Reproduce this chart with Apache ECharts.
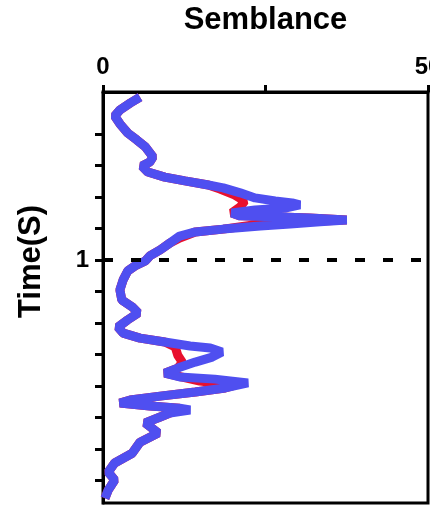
<!DOCTYPE html>
<html lang="en">

<head>
    <meta charset="UTF-8">
    <title>Semblance</title>
    <script src="https://cdn.jsdelivr.net/npm/echarts@6/dist/echarts.min.js"></script>
    <style>
        html,
        body {
            margin: 0px;
            padding: 0px;
            background: #fff;
        }

        #semblance {
            width: 430px;
            height: 508px;
        }
    </style>
</head>

<body>
    <div id="semblance"></div>
    <script>
        // picked semblance (blue) and the reference pick underneath (red)
        var blueValues = [5.7, 4.2, 2.6, 1.8, 2.6, 3.8, 5.2, 6.5, 7.7, 7.2, 6.0, 6.9, 9.5, 12.6, 16.2, 18.5, 21.1, 23.4, 26.5, 29.1, 30.3, 28.0, 23.4, 19.8, 21.1, 26.2, 31.8, 37.5, 33.4, 28.8, 24.2, 18.5, 14.2, 11.8, 10.3, 8.8, 7.2, 6.5, 4.9, 3.8, 3.1, 2.6, 2.9, 4.5, 5.4, 3.8, 2.3, 3.1, 5.7, 9.5, 13.4, 16.5, 18.3, 16.8, 14.2, 11.5, 9.5, 11.8, 17.2, 22.3, 18.8, 14.2, 8.8, 4.2, 2.6, 7.2, 11.8, 13.4, 10.3, 8.8, 6.5, 8.5, 5.7, 4.5, 1.8, 0.8, 1.8, 0.8, 0.3];
        var blueTimes = [0.483, 0.502, 0.524, 0.543, 0.568, 0.597, 0.619, 0.641, 0.673, 0.689, 0.702, 0.721, 0.737, 0.749, 0.762, 0.771, 0.787, 0.803, 0.813, 0.819, 0.825, 0.835, 0.841, 0.851, 0.860, 0.863, 0.867, 0.873, 0.879, 0.886, 0.892, 0.902, 0.911, 0.924, 0.946, 0.968, 0.987, 1.003, 1.019, 1.035, 1.063, 1.095, 1.127, 1.149, 1.168, 1.190, 1.213, 1.232, 1.248, 1.260, 1.273, 1.279, 1.292, 1.308, 1.324, 1.343, 1.359, 1.371, 1.378, 1.390, 1.406, 1.419, 1.432, 1.444, 1.454, 1.463, 1.470, 1.476, 1.486, 1.498, 1.517, 1.549, 1.578, 1.613, 1.644, 1.673, 1.698, 1.730, 1.756];

        var redValues = [5.7, 4.2, 2.6, 1.8, 2.6, 3.8, 5.2, 6.5, 7.7, 7.2, 6.0, 6.9, 9.5, 12.6, 16.2, 18.0, 20.3, 21.8, 21.1, 19.8, 21.1, 26.2, 31.8, 37.5, 33.4, 28.8, 24.2, 18.5, 14.2, 11.8, 10.3, 8.8, 7.2, 6.5, 4.9, 3.8, 3.1, 2.6, 2.9, 4.5, 5.4, 3.8, 2.3, 3.1, 5.7, 9.5, 11.1, 11.5, 12.2, 11.5, 9.5, 14.9, 20.3, 18.8, 14.2, 8.8, 4.2, 2.6, 7.2, 11.8, 11.0, 10.3, 8.8, 6.5, 8.5, 5.7, 4.5, 1.8, 0.8, 1.8, 0.8, 0.3];
        var redTimes = [0.483, 0.502, 0.524, 0.543, 0.568, 0.597, 0.619, 0.641, 0.673, 0.689, 0.702, 0.721, 0.737, 0.749, 0.762, 0.775, 0.794, 0.813, 0.832, 0.851, 0.860, 0.863, 0.867, 0.873, 0.876, 0.879, 0.886, 0.902, 0.911, 0.930, 0.946, 0.968, 0.987, 1.003, 1.019, 1.035, 1.063, 1.095, 1.127, 1.149, 1.168, 1.190, 1.213, 1.232, 1.248, 1.260, 1.276, 1.302, 1.324, 1.343, 1.359, 1.384, 1.397, 1.406, 1.419, 1.432, 1.444, 1.454, 1.463, 1.470, 1.480, 1.486, 1.498, 1.517, 1.549, 1.578, 1.613, 1.644, 1.673, 1.698, 1.730, 1.756];

        var timeTicks = [0.6, 0.7, 0.8, 0.9, 1.0, 1.1, 1.2, 1.3, 1.4, 1.5, 1.6, 1.7];
        var timeLabels = [1];
        var semblanceTicks = [0, 25, 50];
        var markTime = 1;

        function pairs(xs, ys) {
            var out = [];
            for (var i = 0; i < xs.length; i++) {
                out.push([xs[i], ys[i]]);
            }
            return out;
        }

        var chart = echarts.init(document.getElementById('semblance'));
        var boldText = {
            fontFamily: 'Liberation Sans, Arial, sans-serif',
            fontWeight: 'bold',
            color: '#000'
        };

        var option = {
            animation: false,
            grid: {
                left: 103,
                right: 2,
                top: 92,
                bottom: 5,
                outerBoundsMode: 'none',
                show: true,
                borderColor: '#000',
                borderWidth: 3
            },
            xAxis: {
                type: 'value',
                position: 'top',
                min: 0,
                max: 50,
                interval: 25,
                name: 'Semblance',
                nameLocation: 'middle',
                nameGap: 56,
                nameTextStyle: Object.assign({ fontSize: 31 }, boldText),
                axisLine: {
                    lineStyle: { color: '#000', width: 3 }
                },
                axisTick: {
                    length: 7,
                    lineStyle: { color: '#000', width: 3 }
                },
                axisLabel: Object.assign({
                    fontSize: 24,
                    margin: 13,
                    showMaxLabel: true,
                    formatter: function (v) {
                        return semblanceTicks.indexOf(v) === 1 ? '' : String(v);
                    }
                }, boldText),
                splitLine: { show: false }
            },
            yAxis: {
                type: 'value',
                inverse: true,
                min: 0.467,
                max: 1.771,
                name: 'Time(S)',
                nameLocation: 'middle',
                nameRotate: 90,
                nameGap: 56,
                nameTextStyle: Object.assign({ fontSize: 31, padding: [0, 0, 0, 72] }, boldText),
                axisLine: {
                    lineStyle: { color: '#000', width: 3 }
                },
                axisTick: {
                    length: 8,
                    customValues: timeTicks,
                    lineStyle: { color: '#000', width: 3 }
                },
                axisLabel: Object.assign({
                    fontSize: 24,
                    margin: 14,
                    customValues: timeLabels,
                    formatter: function (v) {
                        return String(Math.round(v));
                    }
                }, boldText),
                splitLine: { show: false }
            },
            series: [{
                    name: 'reference',
                    type: 'line',
                    data: pairs(redValues, redTimes),
                    showSymbol: false,
                    lineStyle: { color: '#e8102e', width: 9 },
                    markLine: {
                        silent: true,
                        symbol: 'none',
                        label: { show: false },
                        lineStyle: { color: '#000', width: 4, type: [10, 18] },
                        data: [{ yAxis: markTime }]
                    }
                },
                {
                    name: 'semblance',
                    type: 'line',
                    data: pairs(blueValues, blueTimes),
                    showSymbol: false,
                    lineStyle: { color: '#4f4ff0', width: 9 }
                }
            ]
        };
        chart.setOption(option);
    </script>
</body>

</html>
